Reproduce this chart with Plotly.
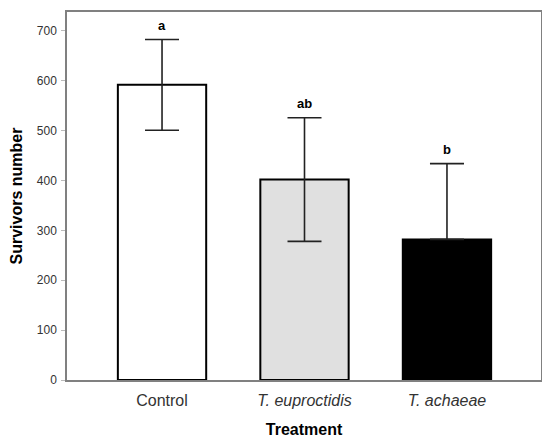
import plotly.graph_objects as go

treatments = ["Control", "<i>T. euproctidis</i>", "<i>T. achaeae</i>"]
means = [592, 402, 282]
err_up = [91, 124, 152]
err_down = [91, 124, 0]
letters = ["a", "ab", "b"]
fills = ["#ffffff", "#e0e0e0", "#000000"]
ticks = [0, 100, 200, 300, 400, 500, 600, 700]

x = [0, 1, 2]

fig = go.Figure()
fig.add_trace(go.Bar(
    x=x, y=means, width=0.62,
    marker=dict(color=fills, line=dict(color="#000000", width=2)),
    error_y=dict(type="data", array=err_up, arrayminus=err_down, symmetric=False,
                 color="#222222", thickness=1.6, width=17),
))

# significance letters above the whiskers
for xi, m, e, t in zip(x, means, err_up, letters):
    fig.add_annotation(x=xi, y=m + e, text="<b>" + t + "</b>", showarrow=False,
                       yshift=14, font=dict(family="Arial, Liberation Sans", size=13, color="#000000"))

# page body has an 8px margin, so the figure is a bit smaller than the window
fig.update_layout(
    width=542, height=436,
    margin=dict(l=59, r=9, t=2, b=64),
    plot_bgcolor="#ffffff", paper_bgcolor="#ffffff",
    showlegend=False,
    font=dict(family="Arial, Liberation Sans", color="#333333"),
    xaxis=dict(
        tickmode="array", tickvals=x, ticktext=treatments,
        range=[-0.667, 2.66], showgrid=False, zeroline=False,
        showline=True, linecolor="#808080", linewidth=1.5, mirror=True,
        ticks="", ticklabelstandoff=5, tickfont=dict(size=16, color="#333333"),
        title=dict(text="<b>Treatment</b>", font=dict(size=16, color="#000000"), standoff=16),
    ),
    yaxis=dict(
        tickmode="array", tickvals=ticks, range=[0, 738],
        showgrid=False, zeroline=False,
        showline=True, linecolor="#808080", linewidth=1.5, mirror=True,
        ticks="outside", ticklen=4, tickcolor="#bbbbbb", ticklabelstandoff=2,
        tickfont=dict(size=12, color="#333333"),
        title=dict(text="<b>Survivors number</b>", font=dict(size=16, color="#000000"), standoff=12),
    ),
)

fig.write_html("out.html")
